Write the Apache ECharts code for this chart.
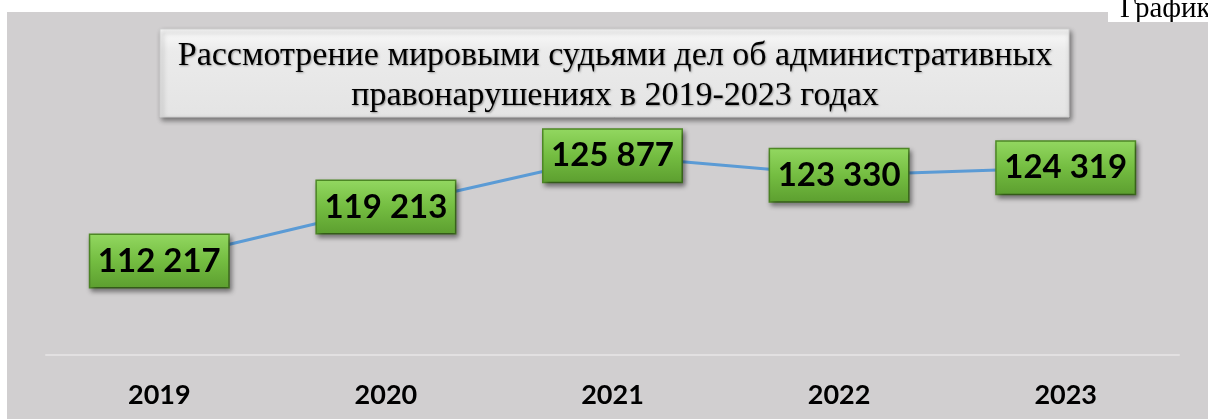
<!DOCTYPE html>
<html>
<head>
<meta charset="utf-8">
<script src="https://cdn.jsdelivr.net/npm/echarts@6/dist/echarts.min.js"></script>
<style>
  html, body { margin: 0; padding: 0; background: #ffffff; }
  #chart { width: 1208px; height: 419px; }
</style>
</head>
<body>
<div id="chart"></div>
<script>
// data
var years = ['2019', '2020', '2021', '2022', '2023'];
var cases = [112217, 119213, 125877, 123330, 124319];
var titleLines = ['Рассмотрение мировыми судьями дел об административных', 'правонарушениях в 2019-2023 годах'];
var cornerText = 'График';

function fmt(v) {
    return String(v).replace(/\B(?=(\d{3})+(?!\d))/g, ' ');
}

var chart = echarts.init(document.getElementById('chart'), null, { renderer: 'canvas' });

var greenFill = new echarts.graphic.LinearGradient(0, 0, 0, 1, [
    { offset: 0, color: '#93d861' },
    { offset: 0.5, color: '#74bd41' },
    { offset: 1, color: '#5c9e2f' }
]);

var option = {
    backgroundColor: '#ffffff',
    animation: false,
    graphic: [
        {
            type: 'rect', z: -10, silent: true,
            shape: { x: 7, y: 12, width: 1201, height: 407 },
            style: { fill: '#d1cfd0' }
        },
        {
            type: 'rect', z: -9, silent: true,
            shape: { x: 1108, y: 0, width: 100, height: 22 },
            style: { fill: '#ffffff' }
        },
        {
            type: 'text', z: 5,
            style: {
                text: cornerText, x: 1120, y: 24, textVerticalAlign: 'bottom',
                font: '29px "Liberation Serif"', fill: '#000000'
            }
        },
        {
            type: 'rect', z: 6, silent: true,
            shape: { x: 1108, y: 22, width: 100, height: 8 },
            style: { fill: '#d1cfd0' }
        },
        {
            type: 'rect', z: 10, silent: true,
            shape: { x: 160, y: 29, width: 909, height: 88 },
            style: {
                fill: new echarts.graphic.LinearGradient(0, 0, 0, 1, [
                    { offset: 0, color: '#fbfbfb' },
                    { offset: 0.25, color: '#ebebeb' },
                    { offset: 1, color: '#e4e4e4' }
                ]),
                stroke: '#cfcfcf', lineWidth: 1,
                shadowBlur: 5, shadowOffsetX: 2, shadowOffsetY: 3,
                shadowColor: 'rgba(0,0,0,0.45)'
            }
        },
        {
            type: 'text', z: 11,
            style: {
                text: titleLines.join('\n'), x: 615, y: 76,
                textAlign: 'center', textVerticalAlign: 'middle',
                font: '34px "Liberation Serif"', lineHeight: 40, fill: '#000000',
                textShadowColor: 'rgba(0,0,0,0.35)', textShadowBlur: 2, textShadowOffsetX: 1, textShadowOffsetY: 1
            }
        }
    ],
    grid: { left: 46, right: 29, top: 124, bottom: 64 },
    xAxis: {
        type: 'category',
        data: years,
        axisLine: { lineStyle: { color: '#e2e0e1', width: 2 } },
        axisTick: { show: false },
        axisLabel: {
            margin: 27, color: '#000000', fontFamily: 'Lato',
            fontWeight: 'bold', fontSize: 27
        }
    },
    yAxis: {
        type: 'value', min: 100000, max: 130000, show: false,
        splitLine: { show: false }
    },
    series: [{
        type: 'line',
        data: cases,
        symbol: 'circle',
        symbolSize: 1,
        lineStyle: { color: '#5b9bd5', width: 3 },
        itemStyle: { color: '#5b9bd5' },
        label: {
            show: true,
            position: 'inside',
            formatter: function (p) { return fmt(p.value); },
            fontFamily: 'Lato', fontWeight: 'bold', fontSize: 33, color: '#000000',
            width: 138, height: 52, lineHeight: 52, align: 'center',
            backgroundColor: greenFill,
            borderColor: '#4f8a26', borderWidth: 1.5,
            shadowBlur: 5, shadowOffsetX: 2, shadowOffsetY: 3,
            shadowColor: 'rgba(0,0,0,0.45)'
        }
    }]
};

chart.setOption(option);
</script>
</body>
</html>
